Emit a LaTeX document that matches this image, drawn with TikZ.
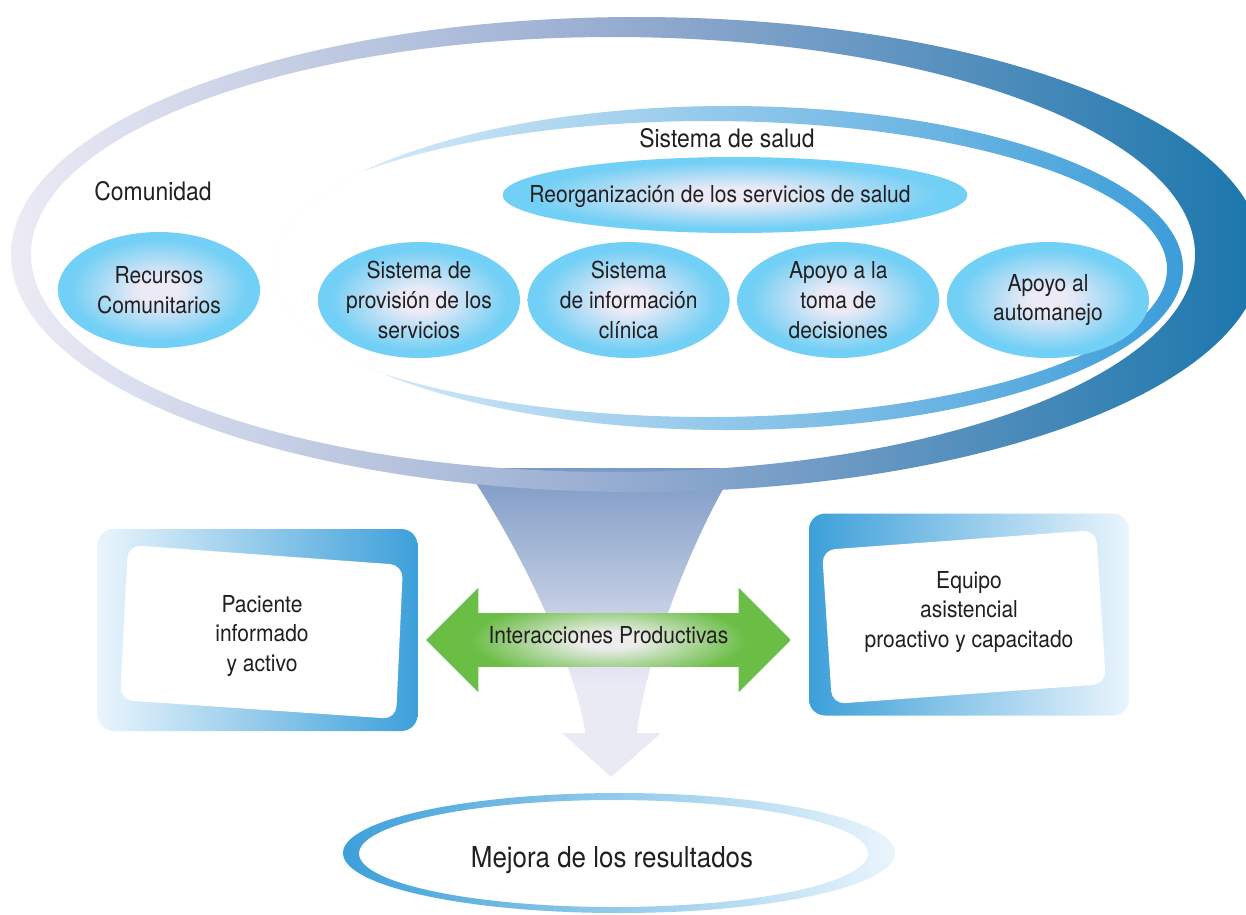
\documentclass[tikz,border=0pt]{standalone}
\usepackage{fontspec}
\setmainfont{TeX Gyre Heros}[FakeStretch=0.9]
\usepackage{tikz}
\usetikzlibrary{shapes.geometric, shapes.arrows, positioning}

\definecolor{ink}{HTML}{231F20}
\definecolor{ringL}{HTML}{ECEBF5}
\definecolor{ringM}{HTML}{93AACF}
\definecolor{ringR}{HTML}{1A76AC}
\definecolor{saludL}{HTML}{EAF4FC}
\definecolor{saludR}{HTML}{3C9DD9}
\definecolor{ovalIn}{HTML}{ECEAF6}
\definecolor{ovalOut}{HTML}{72CFF5}
\definecolor{boxLight}{HTML}{EAF5FC}
\definecolor{boxDark}{HTML}{3DA0DA}
\definecolor{leafGreen}{HTML}{6ABD45}
\definecolor{glow}{HTML}{ECEDEB}
\definecolor{funTop}{HTML}{7B99C5}
\definecolor{funMid}{HTML}{C6CFE4}
\definecolor{funPale}{HTML}{EAEAF5}

\pgfdeclareradialshading{ovalshade}{\pgfpoint{0bp}{0bp}}{color(0bp)=(ovalIn); color(5bp)=(ovalIn); color(22bp)=(ovalOut); color(50bp)=(ovalOut)}
\pgfdeclareradialshading{greenglow}{\pgfpoint{0bp}{0bp}}{color(0bp)=(glow); color(4bp)=(glow); color(19bp)=(leafGreen); color(50bp)=(leafGreen)}
\pgfdeclareverticalshading{funnelshade}{100bp}{color(0bp)=(funPale); color(40bp)=(funPale); color(52bp)=(funMid); color(75bp)=(funTop); color(100bp)=(funTop)}

\newcommand\bodyfont{\fontsize{13.3}{17}\selectfont}
\newcommand\headfont{\fontsize{14.5}{17}\selectfont}
\newcommand\bigfont{\fontsize{16.4}{20}\selectfont}

\begin{document}
\begin{tikzpicture}[x=0.02cm, y=-0.02cm, font=\bodyfont, text=ink,
    oval/.style={ellipse, shading=ovalshade, minimum width=4.04cm, minimum height=2.32cm, inner sep=-5pt, align=center},
    frame/.style={rounded corners=0.32cm, minimum width=6.4cm, minimum height=4.04cm, inner sep=0pt},
    pane/.style={fill=white, rounded corners=0.26cm},
    head/.style={font=\headfont, anchor=base}]
  \useasboundingbox (0,0) rectangle (1246,914);
  \shade[shading=funnelshade] (466,468) .. controls (528,560) and (580,680) .. (585,733) -- (562,733) -- (611,777)
      -- (661,733) -- (637,733) .. controls (642,680) and (680,560) .. (735,468) -- cycle;
  \shade[even odd rule, left color=ringL, right color=ringR, middle color=ringM]
      (636.5,254.5) ellipse [x radius=625.5, y radius=237.5] (613,254.5) ellipse [x radius=582, y radius=217.5];
  \begin{scope}
    \clip (728,268) ellipse [x radius=455, y radius=162];
    \shade[even odd rule, left color=saludL, right color=saludR]
        (728,268) ellipse [x radius=455, y radius=162] (708,269) ellipse [x radius=459, y radius=148];
  \end{scope}

  \node[head] (comunidad) at (153,200) {Comunidad};
  \node[head] (salud) at (727,147) {Sistema de salud};
  \node[oval, minimum width=9.3cm, minimum height=1.52cm] (reorg) at (735,195) {};
  \node[anchor=base] (reorgTxt) at (720,202) {Reorganización de los servicios de salud};
  \node[oval] (recursos) at (159,290) {Recursos\\Comunitarios};
  \node[oval] (provision) at (419,300) {Sistema de\\provisión de los\\servicios};
  \node[oval, right=0.14cm of provision] (info) {Sistema\\de información\\clínica};
  \node[oval, right=0.14cm of info] (decision) {Apoyo a la\\toma de\\decisiones};
  \node[oval, right=0.14cm of decision] (automanejo) {Apoyo al\\automanejo};

  \node[frame, left color=boxLight, right color=boxDark] (paciente) at (257.5,630) {};
  \path[pane] (128,545) -- (403,565) -- (396,719) -- (120,700) -- cycle;
  \node[align=center] (pacTxt) at (262,636) {Paciente\\informado\\y activo};
  \node[frame, left color=boxDark, right color=boxLight] (equipo) at (969,614.5) {};
  \path[pane] (822,550) -- (1096,530) -- (1106,684) -- (832,704) -- cycle;
  \node[align=center] (eqTxt) at (969,612) {Equipo\\asistencial\\proactivo y capacitado};

  \node[double arrow, shading=greenglow, minimum height=7.3cm, minimum width=2.08cm, double arrow head extend=0.51cm,
      inner xsep=0pt, inner ysep=0.35cm, text height=0.24cm, text depth=0.12cm] (inter) at (608.5,640) {Interacciones Productivas};

  \shade[even odd rule, left color=boxDark, right color=boxLight]
      (619,853) ellipse [x radius=276, y radius=60] (613.5,853.5) ellipse [x radius=254.5, y radius=53.5];
  \node[font=\bigfont, anchor=base] (mejora) at (612,867) {Mejora de los resultados};
\end{tikzpicture}
\end{document}
